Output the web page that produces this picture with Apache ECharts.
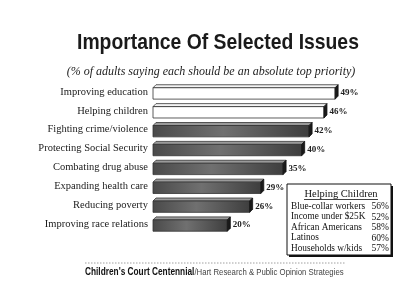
<!DOCTYPE html>
<html><head><meta charset="utf-8">
<script src="https://cdn.jsdelivr.net/npm/echarts@6/dist/echarts.min.js"></script>
<style>html,body{margin:0;padding:0;background:#fff}#c{width:400px;height:308px}</style>
</head><body><div id="c"></div>
<script>
const categories = ["Improving education","Helping children","Fighting crime/violence","Protecting Social Security","Combating drug abuse","Expanding health care","Reducing poverty","Improving race relations"];
const values = [49,46,42,40,35,29,26,20];
const insetTitle = "Helping Children";
const insetGroups = ["Blue-collar workers","Income under $25K","African Americans","Latinos","Households w/kids"];
const insetValues = [56,52,58,60,57];

const chart = echarts.init(document.getElementById('c'), null, {renderer:'canvas'});
const serif = '"Liberation Serif","Times New Roman",serif';
const sans = '"Liberation Sans",Arial,sans-serif';

function renderItem(params, api){
  const v = api.value(0), idx = api.value(1);
  const p0 = api.coord([0, idx]);
  const p1 = api.coord([v, idx]);
  const band = api.size([0,1])[1];
  const h = band*0.76, d = 3;
  const x0 = p0[0], x1 = p1[0], cy = p0[1];
  const top = cy - h/2, bot = cy + h/2;
  const white = params.dataIndex < 2;
  const frontFill = white ? '#ffffff' : new echarts.graphic.LinearGradient(0,0,1,0,[
    {offset:0,color:'#4a4a4a'},{offset:0.45,color:'#707070'},{offset:1,color:'#3e3e3e'}]);
  return {type:'group', children:[
    {type:'polygon', shape:{points:[[x0,top+d],[x0+d,top],[x1+d,top],[x1,top+d]]},
      style:{fill: white?'#f4f4f4':'#9a9a9a', stroke:'#333', lineWidth:0.8}},
    {type:'rect', shape:{x:x0,y:top+d,width:x1-x0,height:h-d},
      style:{fill:frontFill, stroke:'#333', lineWidth:0.8}},
    {type:'polygon', shape:{points:[[x1,top+d],[x1+d,top],[x1+d,bot-d],[x1,bot]]},
      style:{fill:'#1a1a1a', stroke:'#111', lineWidth:0.8}},
    {type:'text', style:{text: v+'%', x:x1+d+2.5, y:cy+1, verticalAlign:'middle', align:'left',
      font:'bold 9px '+serif, fill:'#222'}}
  ]};
}

const graphics = [
  {type:'text', x:77, y:43, scaleX:0.88,
    style:{x:0, y:0, text:'Importance Of Selected Issues', font:'bold 22px '+sans, fill:'#1a1a1a', verticalAlign:'middle', align:'left'}},
  {type:'text', x:211, y:72,
    style:{text:'(% of adults saying each should be an absolute top priority)', font:'italic 12px '+serif, fill:'#222', align:'center', verticalAlign:'middle'}},
  {type:'rect', shape:{x:289,y:186,width:104,height:71}, style:{fill:'#111'}},
  {type:'rect', shape:{x:287,y:184,width:104,height:71}, style:{fill:'#fff', stroke:'#111', lineWidth:1}},
  {type:'text', x:341, y:194, style:{text:insetTitle, font:'10.5px '+serif, fill:'#111', align:'center', verticalAlign:'middle'}},
  {type:'line', shape:{x1:304,y1:199.5,x2:378,y2:199.5}, style:{stroke:'#111', lineWidth:0.8}},
  {type:'line', shape:{x1:85,y1:263,x2:345,y2:263}, style:{stroke:'#888', lineWidth:0.8, lineDash:[1.5,1.5]}},
  {type:'text', x:85, y:272, scaleX:0.83,
    style:{x:0, y:0, text:"{b|Children's Court Centennial}{r|/Hart Research & Public Opinion Strategies}", fill:'#222', verticalAlign:'middle', align:'left',
      rich:{b:{font:'bold 10px '+sans, fill:'#111'}, r:{font:'9.4px '+sans, fill:'#444'}}}}
];
insetGroups.forEach((g,i)=>{
  const y = 206.5 + i*10.5;
  graphics.push({type:'text', x:291, y:y, style:{text:g, font:'9.3px '+serif, fill:'#111', verticalAlign:'middle', align:'left'}});
  graphics.push({type:'text', x:389, y:y, style:{text:insetValues[i]+'%', font:'9.5px '+serif, fill:'#111', verticalAlign:'middle', align:'right'}});
});

chart.setOption({
  animation:false,
  backgroundColor:'#ffffff',
  grid:{left:153, top:82.5, height:151, width:223},
  xAxis:{type:'value', min:0, max:60, show:false},
  yAxis:{type:'category', data:categories, inverse:true,
    axisLine:{show:false}, axisTick:{show:false}, splitLine:{show:false},
    axisLabel:{margin:5, fontFamily:serif, fontSize:10.5, color:'#1a1a1a'}},
  series:[{type:'custom', renderItem:renderItem, encode:{x:0,y:1},
    data: values.map((v,i)=>[v,i])}],
  graphic: graphics
});
</script></body></html>
